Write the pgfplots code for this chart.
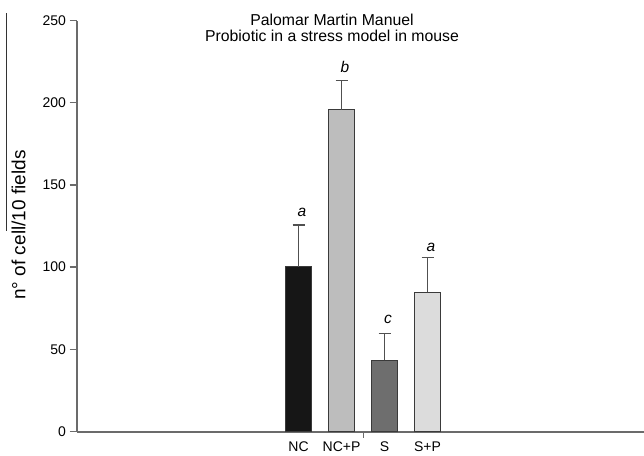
\documentclass[border=0pt]{standalone}
\usepackage{pgfplots}
\pgfplotsset{compat=1.18}
\usepackage{fontspec}
\setmainfont{Liberation Sans}
\definecolor{axgray}{HTML}{6B6B6B}
\definecolor{errgray}{HTML}{505050}
\definecolor{bardraw}{HTML}{3A3A3A}
\definecolor{cNC}{HTML}{161616}
\definecolor{cNCP}{HTML}{BDBDBD}
\definecolor{cS}{HTML}{6E6E6E}
\definecolor{cSP}{HTML}{DCDCDC}
\begin{document}
\begin{tikzpicture}[x=1pt,y=1pt]
\useasboundingbox (0pt,0pt) rectangle (644pt,-455pt);
\draw[black!80, line width=0.9pt] (6.5pt,-13pt) -- (6.5pt,-231pt);
\node[font=\fontsize{15.8}{17}\selectfont, anchor=base] at (332pt,-25pt) {Palomar Martin Manuel};
\node[font=\fontsize{15.8}{17}\selectfont, anchor=base] at (332pt,-41.5pt) {Probiotic in a stress model in mouse};
\node[font=\fontsize{19}{21}\selectfont, rotate=90, anchor=center] at (18.5pt,-225pt) {n° of cell/10 fields};
\begin{axis}[
  at={(76.5pt,-431.5pt)}, anchor=south west,
  scale only axis, width=567pt, height=411pt,
  xmin=-4.163, xmax=9.023, ymin=0, ymax=250,
  axis x line=bottom, axis y line=left,
  axis line style={-, draw=axgray, line width=2pt},
  ytick={0,50,100,150,200,250},
  xtick={1,2,3,4}, xticklabels={NC,NC+P,S,S+P},
  x tick style={draw=none},
  extra x ticks={2.5}, extra x tick labels={},
  extra x tick style={x tick style={draw=axgray, line width=1pt}, major tick length=6pt},
  tick align=outside,
  y tick style={draw=axgray, line width=1.5pt},
  major tick length=7pt,
  tick label style={font=\fontsize{14}{16}\selectfont},
  /pgf/number format/assume math mode=true,
  ybar, bar width=26pt,
  clip=false,
]
\addplot[ybar, bar shift=0pt, fill=cNC, draw=bardraw, line width=1pt,
  error bars/.cd, y dir=plus, y explicit,
  error bar style={draw=errgray, line width=1.3pt},
  error mark options={rotate=90, mark size=6pt, line width=1.3pt, draw=errgray}]
  coordinates {(1,100.2) +- (0,25.4)};
\addplot[ybar, bar shift=0pt, fill=cNCP, draw=bardraw, line width=1pt,
  error bars/.cd, y dir=plus, y explicit,
  error bar style={draw=errgray, line width=1.3pt},
  error mark options={rotate=90, mark size=6pt, line width=1.3pt, draw=errgray}]
  coordinates {(2,195.7) +- (0,17.9)};
\addplot[ybar, bar shift=0pt, fill=cS, draw=bardraw, line width=1pt,
  error bars/.cd, y dir=plus, y explicit,
  error bar style={draw=errgray, line width=1.3pt},
  error mark options={rotate=90, mark size=6pt, line width=1.3pt, draw=errgray}]
  coordinates {(3,43.3) +- (0,16.3)};
\addplot[ybar, bar shift=0pt, fill=cSP, draw=bardraw, line width=1pt,
  error bars/.cd, y dir=plus, y explicit,
  error bar style={draw=errgray, line width=1.3pt},
  error mark options={rotate=90, mark size=6pt, line width=1.3pt, draw=errgray}]
  coordinates {(4,84.6) +- (0,21.3)};
\node[anchor=base, font=\fontsize{15.5}{17}\selectfont\itshape] at (axis cs:1.08,130.7) {a};
\node[anchor=base, font=\fontsize{15.5}{17}\selectfont\itshape] at (axis cs:2.08,218.5) {b};
\node[anchor=base, font=\fontsize{15.5}{17}\selectfont\itshape] at (axis cs:3.08,65.7) {c};
\node[anchor=base, font=\fontsize{15.5}{17}\selectfont\itshape] at (axis cs:4.08,109.3) {a};
\end{axis}
\end{tikzpicture}
\end{document}
